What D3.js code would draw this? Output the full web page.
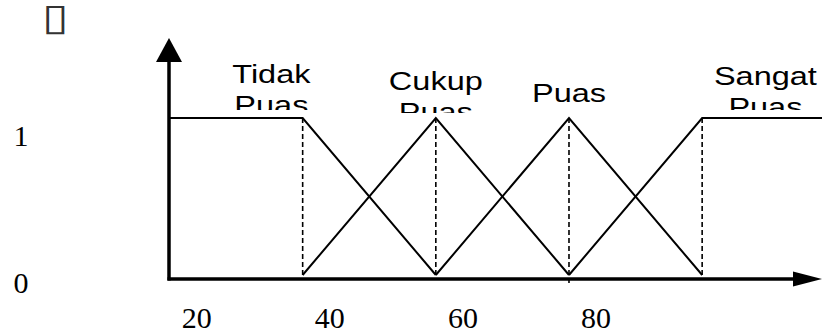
<!DOCTYPE html>
<html>
<head>
<meta charset="utf-8">
<script src="https://cdn.jsdelivr.net/npm/d3@7"></script>
<style>
  body { margin: 0; background: #fff; }
  svg { display: block; }
</style>
</head>
<body>
<div id="chart"></div>
<script>
// membership functions (x value, degree of membership)
var tidakPuas  = [[16, 1], [36, 1], [56, 0]];
var cukupPuas  = [[36, 0], [56, 1], [76, 0]];
var puas       = [[56, 0], [76, 1], [96, 0]];
var sangatPuas = [[76, 0], [96, 1], [114, 1]];

var setNames = [["Tidak", "Puas"], ["Cukup", "Puas"], ["Puas"], ["Sangat", "Puas"]];
var nameAt = [31.3, 56, 76, 105.5];     // x value where each name is centred
var peaks = [36, 56, 76, 96];           // dashed guide lines
var xTicks = [20, 40, 60, 80];
var yTicks = [0, 1];

var w = 822;
var h = 332;

var xScale = d3.scaleLinear().domain([16, 114]).range([169.5, 822]);
var yScale = d3.scaleLinear().domain([0, 1]).range([275, 118]);
var yLabel = d3.scaleLinear().domain([0, 1]).range([293, 146]); // baselines of 0 / 1

var axisY = 279;

var svg = d3.select("#chart")
    .append("svg")
    .attr("width", w)
    .attr("height", h);

// dashed guides
svg.selectAll(".guide")
    .data(peaks)
    .enter().append("line")
    .attr("class", "guide")
    .attr("x1", function(d) { return xScale(d); })
    .attr("x2", function(d) { return xScale(d); })
    .attr("y1", yScale(1))
    .attr("y2", function(d) { return d == 76 ? axisY + 6 : yScale(0); })
    .attr("stroke", "#000")
    .attr("stroke-width", 1.6)
    .attr("stroke-dasharray", "5,3");

var line = d3.line()
    .x(function(d) { return xScale(d[0]); })
    .y(function(d) { return yScale(d[1]); });

svg.selectAll(".mf")
    .data([tidakPuas, cukupPuas, puas, sangatPuas])
    .enter().append("path")
    .attr("class", "mf")
    .attr("d", line)
    .attr("fill", "none")
    .attr("stroke", "#000")
    .attr("stroke-width", 2);

// x axis with arrow
var xAxis = d3.axisBottom(xScale).tickValues(xTicks).tickSize(0);
var gx = svg.append("g")
    .attr("transform", "translate(0," + axisY + ")")
    .call(xAxis);
gx.select(".domain").remove();
gx.selectAll("text")
    .attr("y", 49)
    .attr("dy", 0)
    .attr("fill", "#000")
    .style("font-family", "'Liberation Serif', 'Times New Roman', serif")
    .style("font-size", "30px");

svg.append("line")
    .attr("x1", xScale(16) - 2).attr("y1", axisY)
    .attr("x2", 795).attr("y2", axisY)
    .attr("stroke", "#000").attr("stroke-width", 3.5);
svg.append("path")
    .attr("d", "M793," + (axisY - 7.5) + "L822," + axisY + "L793," + (axisY + 7.5) + "Z")
    .attr("fill", "#000");

// y axis with arrow
var x0 = xScale(16) - 0.5;
svg.append("line")
    .attr("x1", x0).attr("y1", axisY + 1.5)
    .attr("x2", x0).attr("y2", 60)
    .attr("stroke", "#000").attr("stroke-width", 3.5);
svg.append("path")
    .attr("d", "M" + (x0 - 13) + ",62L" + x0 + ",38L" + (x0 + 13) + ",62Z")
    .attr("fill", "#000");

svg.selectAll(".ylab")
    .data(yTicks)
    .enter().append("text")
    .attr("class", "ylab")
    .attr("x", 21)
    .attr("y", function(d) { return yLabel(d); })
    .attr("text-anchor", "middle")
    .style("font-family", "'Liberation Serif', 'Times New Roman', serif")
    .style("font-size", "30px")
    .text(function(d) { return d; });

// mu symbol, shown as a missing-glyph box in the original
svg.append("text")
    .attr("transform", "translate(55.5,30) scale(1.3,1)")
    .attr("text-anchor", "middle")
    .attr("fill", "#333")
    .style("font-family", "'DejaVu Sans', sans-serif")
    .style("font-size", "37px")
    .text("\u25AF");

// set names, clipped just above the membership line
var nameTop = [83, 90, 102, 85];   // baseline of first line
var clipBottom = [110, 113, 120, 110];
var defs = svg.append("defs");
setNames.forEach(function(name, i) {
    defs.append("clipPath").attr("id", "clip" + i)
        .append("rect")
        .attr("x", 0).attr("y", 0)
        .attr("width", w).attr("height", clipBottom[i]);
    var g = svg.append("g").attr("clip-path", "url(#clip" + i + ")");
    name.forEach(function(s, j) {
        g.append("text")
            .attr("transform", "translate(" + xScale(nameAt[i]) + "," + (nameTop[i] + j * 31) + ") scale(1.3,1)")
            .attr("text-anchor", "middle")
            .style("font-family", "'Liberation Sans', Arial, sans-serif")
            .style("font-size", "25px")
            .text(s);
    });
});
</script>
</body>
</html>
